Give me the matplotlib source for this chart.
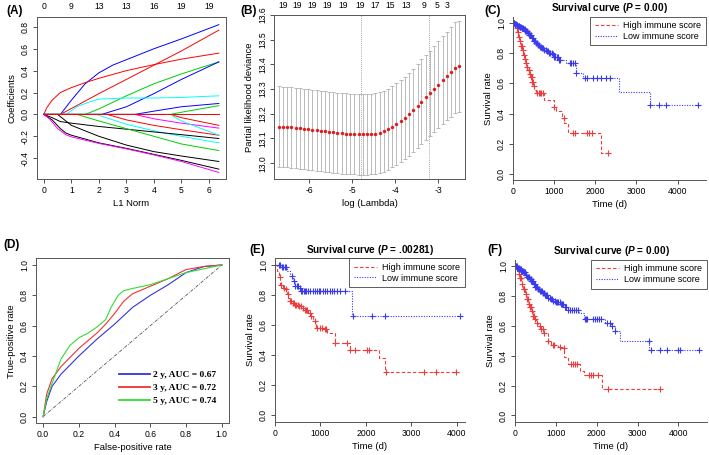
import numpy as np
import matplotlib.pyplot as plt
from matplotlib.lines import Line2D

plt.rcParams['font.family'] = ['Liberation Sans', 'DejaVu Sans']
plt.rcParams['mathtext.fontset'] = 'custom'
plt.rcParams['mathtext.it'] = 'Liberation Sans:italic:bold'
plt.rcParams['axes.linewidth'] = 0.7

# ---------------- data ----------------
# (A) lasso coefficient paths: colour, L1 norm, coefficient
coef_paths = [
    ('blue',    [0, 0.6, 1.0, 1.5, 2.0, 2.5, 3.0, 4.0, 5.0, 6.36], [0, 0, 0.13, 0.28, 0.38, 0.45, 0.50, 0.60, 0.69, 0.82]),
    ('red',     [0, 0.1, 0.3, 0.6, 1.0, 1.5, 2.0, 3.0, 4.0, 5.0, 6.36], [0, 0.06, 0.13, 0.20, 0.245, 0.29, 0.33, 0.40, 0.455, 0.505, 0.56]),
    ('red',     [0, 0.6, 2.0, 3.0, 4.0, 5.0, 6.36], [0, 0, 0.19, 0.32, 0.45, 0.58, 0.77]),
    ('#00CD00', [0, 1.5, 2.0, 3.0, 4.0, 5.0, 6.36], [0, 0, 0.05, 0.17, 0.28, 0.37, 0.48]),
    ('blue',    [0, 2.1, 3.0, 4.0, 5.0, 6.36], [0, 0, 0.07, 0.19, 0.32, 0.48]),
    ('cyan',    [0, 0.8, 1.2, 1.6, 2.0, 3.0, 4.0, 5.0, 6.36], [0, 0, 0.07, 0.11, 0.14, 0.15, 0.15, 0.155, 0.17]),
    ('blue',    [0, 3.3, 4.0, 5.0, 6.36], [0, 0, 0.03, 0.07, 0.10]),
    ('#00CD00', [0, 4.6, 5.0, 6.36], [0, 0, 0.02, 0.08]),
    ('magenta', [0, 3.3, 4.0, 5.0, 6.36], [0, 0, -0.04, -0.08, -0.125]),
    ('red',     [0, 4.6, 5.0, 6.36], [0, 0, -0.03, -0.10]),
    ('red',     [0, 2.3, 3.0, 4.0, 5.0, 6.36], [0, 0, -0.05, -0.10, -0.14, -0.19]),
    ('cyan',    [0, 4.6, 5.0, 6.36], [0, 0, -0.06, -0.19]),
    ('cyan',    [0, 1.9, 3.0, 4.0, 5.0, 6.36], [0, 0, -0.09, -0.15, -0.20, -0.26]),
    ('black',   [0, 0.3, 0.6, 1.0, 2.0, 3.0, 4.0, 5.0, 6.36], [0, -0.03, -0.065, -0.08, -0.11, -0.135, -0.16, -0.185, -0.22]),
    ('#00CD00', [0, 1.2, 2.0, 3.0, 4.0, 5.0, 6.36], [0, 0, -0.06, -0.13, -0.20, -0.27, -0.33]),
    ('black',   [0, 0.5, 1.0, 2.0, 3.0, 4.0, 5.0, 6.36], [0, 0, -0.10, -0.20, -0.28, -0.34, -0.38, -0.43]),
    ('black',   [0, 0.3, 0.6, 0.8, 1.0, 2.0, 3.0, 4.0, 5.0, 6.36], [0, -0.05, -0.13, -0.17, -0.19, -0.26, -0.31, -0.365, -0.42, -0.50]),
    ('magenta', [0, 0.2, 0.5, 0.8, 1.0, 2.0, 3.0, 4.0, 5.0, 6.36], [0, -0.04, -0.13, -0.185, -0.205, -0.265, -0.315, -0.37, -0.43, -0.53]),
    ('magenta', [0, 6.36], [0, 0]),
    ('red',     [0, 6.36], [0, 0]),
]
a_top_pos = [0, 1, 2, 3, 4, 5, 6]
a_top_lab = ['0', '9', '13', '13', '16', '19', '19']

# (B) cross-validation
log_lambda = [-6.70, -6.60, -6.51, -6.41, -6.31, -6.21, -6.12, -6.02, -5.92, -5.82, -5.73,
              -5.63, -5.53, -5.43, -5.34, -5.24, -5.14, -5.04, -4.95, -4.85, -4.75, -4.65,
              -4.56, -4.46, -4.36, -4.26, -4.17, -4.07, -3.97, -3.87, -3.78, -3.68, -3.58,
              -3.48, -3.39, -3.29, -3.19, -3.09, -3.00, -2.90, -2.80, -2.70, -2.61, -2.51]
cv_mean = [13.148, 13.147, 13.146, 13.145, 13.143, 13.141, 13.139, 13.137, 13.135, 13.133, 13.131,
           13.129, 13.127, 13.125, 13.123, 13.121, 13.120, 13.119, 13.118, 13.117, 13.117, 13.117,
           13.118, 13.120, 13.124, 13.130, 13.138, 13.148, 13.158, 13.170, 13.183, 13.198, 13.214,
           13.231, 13.249, 13.266, 13.283, 13.300, 13.317, 13.335, 13.353, 13.371, 13.386, 13.392]
cv_se = [0.163, 0.163, 0.163, 0.163, 0.163, 0.163, 0.163, 0.163, 0.163, 0.163, 0.163,
         0.163, 0.163, 0.163, 0.163, 0.163, 0.163, 0.163, 0.163, 0.163, 0.163, 0.163,
         0.163, 0.163, 0.163, 0.164, 0.164, 0.165, 0.165, 0.166, 0.167, 0.168, 0.169,
         0.170, 0.171, 0.172, 0.173, 0.175, 0.176, 0.178, 0.180, 0.182, 0.184, 0.185]
lambda_min, lambda_1se = -4.80, -3.21
b_top_pos = [-6.60, -6.27, -5.92, -5.57, -5.21, -4.82, -4.47, -4.12, -3.75, -3.33, -3.04, -2.79]
b_top_lab = ['19', '19', '19', '19', '19', '19', '17', '15', '13', '9', '5', '3']

# (D) ROC
roc2_fpr = [0, 0.02, 0.05, 0.1, 0.2, 0.3, 0.4, 0.5, 0.6, 0.7, 0.8, 0.9, 1.0]
roc2_tpr = [0, 0.10, 0.20, 0.28, 0.40, 0.51, 0.61, 0.72, 0.80, 0.87, 0.95, 0.99, 1.0]
roc3_fpr = [0, 0.02, 0.05, 0.1, 0.2, 0.3, 0.35, 0.4, 0.45, 0.5, 0.6, 0.7, 0.8, 0.9, 1.0]
roc3_tpr = [0, 0.15, 0.25, 0.33, 0.45, 0.55, 0.61, 0.68, 0.76, 0.81, 0.86, 0.91, 0.97, 0.99, 1.0]
roc5_fpr = [0, 0.02, 0.05, 0.1, 0.15, 0.2, 0.25, 0.3, 0.35, 0.38, 0.42, 0.45, 0.5, 0.6, 0.7, 0.8, 0.9, 1.0]
roc5_tpr = [0, 0.12, 0.22, 0.38, 0.47, 0.52, 0.55, 0.59, 0.64, 0.72, 0.80, 0.83, 0.845, 0.87, 0.91, 0.95, 0.975, 1.0]
roc_labels = ['2 y, AUC = 0.67', '3 y, AUC = 0.72', '5 y, AUC = 0.74']

# (C) survival
c_hi_t = [0, 60, 100, 130, 160, 190, 220, 250, 280, 310, 340, 370, 400, 430, 460, 490, 520, 560, 760, 990, 1050, 1200, 1250, 1330, 2150]
c_hi_s = [1.0, 0.97, 0.94, 0.91, 0.88, 0.85, 0.82, 0.79, 0.76, 0.735, 0.71, 0.69, 0.665, 0.64, 0.61, 0.585, 0.56, 0.535, 0.49, 0.445, 0.42, 0.37, 0.34, 0.27, 0.135]
c_hi_cens = [90, 120, 150, 175, 200, 215, 240, 265, 300, 320, 350, 380, 390, 420, 440, 450, 470, 480, 500, 590, 620, 650, 690, 720, 1000, 1230, 1460, 1510, 1790, 1850, 1920, 2300]
c_lo_t = [0, 40, 80, 120, 160, 200, 250, 300, 350, 400, 450, 500, 550, 600, 650, 700, 760, 820, 880, 950, 1000, 1100, 1300, 1530, 1700, 2580, 3320]
c_lo_s = [1.0, 0.995, 0.99, 0.985, 0.978, 0.97, 0.96, 0.948, 0.935, 0.92, 0.90, 0.885, 0.87, 0.855, 0.845, 0.835, 0.825, 0.815, 0.805, 0.795, 0.775, 0.755, 0.735, 0.67, 0.635, 0.545, 0.455]
c_lo_cens = [15, 30, 45, 60, 75, 90, 105, 120, 135, 150, 165, 180, 195, 210, 225, 240, 260, 280, 300, 320,
             340, 360, 380, 400, 420, 440, 460, 480, 500, 520, 540, 560, 580, 600, 625, 650, 675, 700, 730, 760,
             790, 820, 850, 880, 910, 940, 970, 1000, 1030, 1060, 1090, 1120, 1150, 1380, 1420, 1460, 1500,
             1540, 1760, 1800, 1950, 2050, 2150, 2250, 2350, 3320, 3550, 3720, 4500]

# (E) survival
e_hi_t = [0, 50, 80, 110, 180, 220, 255, 292, 330, 365, 440, 510, 580, 650, 730, 800, 840, 910, 1090, 1150, 1310, 1640, 2290, 2420]
e_hi_s = [1.0, 0.96, 0.92, 0.87, 0.85, 0.84, 0.81, 0.78, 0.76, 0.745, 0.735, 0.725, 0.715, 0.70, 0.68, 0.66, 0.625, 0.58, 0.575, 0.545, 0.48, 0.435, 0.38, 0.29]
e_hi_cens = [100, 140, 190, 240, 280, 330, 360, 390, 410, 440, 470, 500, 530, 570, 610, 650, 680, 710, 760, 800,
             870, 920, 1000, 1040, 1100, 1130, 1330, 1590, 1660, 1760, 2030, 2060, 2450, 3270, 3540, 3980]
e_lo_t = [0, 150, 260, 330, 370, 400, 440, 510, 580, 1700]
e_lo_s = [1.0, 0.987, 0.96, 0.94, 0.925, 0.895, 0.86, 0.845, 0.825, 0.66]
e_lo_cens = [90, 120, 150, 180, 210, 240, 380, 410, 450, 480, 500, 540, 580, 600, 630, 660, 690, 730, 780, 830,
             870, 920, 960, 1000, 1050, 1090, 1140, 1200, 1250, 1300, 1370, 1440, 1530, 1710, 2130, 2430, 4060]

# (F) survival
f_hi_t = [0, 50, 80, 120, 160, 200, 240, 280, 320, 360, 400, 440, 480, 520, 570, 610, 700, 800, 890, 1050, 1130, 1210, 1290, 1580, 1700, 2130]
f_hi_s = [1.0, 0.97, 0.95, 0.92, 0.88, 0.85, 0.815, 0.78, 0.75, 0.725, 0.70, 0.67, 0.645, 0.62, 0.60, 0.58, 0.555, 0.50, 0.47, 0.46, 0.45, 0.39, 0.345, 0.30, 0.27, 0.18]
f_hi_cens = [90, 130, 150, 180, 210, 230, 260, 290, 310, 340, 370, 390, 420, 450, 470, 500, 530, 600, 640, 680,
             720, 820, 920, 950, 1100, 1200, 1360, 1410, 1470, 1510, 1810, 1860, 1920, 2020, 2280, 3550]
f_lo_t = [0, 50, 100, 150, 200, 250, 300, 350, 400, 450, 500, 550, 600, 660, 730, 800, 860, 930, 1000, 1100, 1200, 1300, 1560, 1700, 2200, 2350, 2440, 2580, 3290]
f_lo_s = [1.0, 0.99, 0.98, 0.97, 0.96, 0.945, 0.93, 0.915, 0.90, 0.88, 0.865, 0.85, 0.835, 0.82, 0.805, 0.79, 0.78, 0.77, 0.76, 0.745, 0.73, 0.705, 0.69, 0.65, 0.62, 0.60, 0.565, 0.50, 0.44]
f_lo_cens = [15, 30, 45, 60, 75, 90, 105, 120, 135, 150, 165, 180, 195, 210, 225, 240, 260, 280, 300, 320,
             340, 360, 380, 400, 420, 440, 460, 480, 500, 520, 540, 560, 580, 600, 625, 650, 675, 700, 730, 760,
             790, 820, 850, 880, 910, 940, 970, 1000, 1030, 1060, 1090, 1120, 1150, 1180, 1220, 1260, 1300,
             1350, 1400, 1440, 1490, 1540, 1710, 1740, 1770, 1900, 1950, 2000, 2050, 2100, 2240, 2320, 2370,
             2450, 3270, 3330, 3560, 3720, 4000, 4050, 4500]
surv_labels = ['High immune score', 'Low immune score']

# ---------------- layout ----------------
W, H = 709, 455
fig = plt.figure(figsize=(W / 100, H / 100), dpi=100)
FS_TICK = 6.2
FS_LAB = 6.8


def box(l, t, r, b):
    return [l / W, 1 - b / H, (r - l) / W, (b - t) / H]


def r_style(ax):
    ax.tick_params(direction='out', length=3, width=0.6, labelsize=FS_TICK, pad=2, color='#333333')
    for lab in ax.get_yticklabels():
        lab.set_rotation(90)
        lab.set_va('center')
    for s in ax.spines.values():
        s.set_color('#555555')


def panel_tag(x, y, txt):
    fig.text(x / W, 1 - y / H, txt, fontsize=8.5, fontweight='bold', ha='left', va='center')


# ---- (A)
ax = fig.add_axes(box(37, 17, 226, 179))
for col, xs, ys in coef_paths:
    ax.plot(xs, ys, color=col, lw=0.7)
ax.set_xlim(-0.25, 6.62)
ax.set_ylim(-0.59, 0.89)
ax.set_xticks([0, 1, 2, 3, 4, 5, 6])
ax.set_yticks([-0.4, -0.2, 0.0, 0.2, 0.4, 0.6, 0.8])
ax.set_yticklabels(['-0.4', '-0.2', '0.0', '0.2', '0.4', '0.6', '0.8'])
ax.set_xlabel('L1 Norm', fontsize=FS_LAB, labelpad=3)
ax.set_ylabel('Coefficients', fontsize=FS_LAB, labelpad=3)
for p, l in zip(a_top_pos, a_top_lab):
    ax.text(p, 1.066, l, transform=ax.get_xaxis_transform(), fontsize=FS_TICK, ha='center', va='center')
r_style(ax)
panel_tag(6, 11, '(A)')

# ---- (B)
ax = fig.add_axes(box(274, 15, 465, 179))
ax.errorbar(log_lambda, cv_mean, yerr=cv_se, fmt='none', ecolor='#b0b0b0', elinewidth=0.6, capsize=1.6, capthick=0.6)
ax.scatter(log_lambda, cv_mean, s=6, color='#e31a1c', zorder=3, linewidths=0)
ax.axvline(lambda_min, color='#888888', lw=0.6, ls=(0, (1, 1.5)))
ax.axvline(lambda_1se, color='#888888', lw=0.6, ls=(0, (1, 1.5)))
ax.set_xlim(-6.81, -2.38)
ax.set_ylim(12.936, 13.60)
ax.set_xticks([-6, -5, -4, -3])
ax.set_xticklabels(['-6', '-5', '-4', '-3'])
ax.set_yticks([13.0, 13.1, 13.2, 13.3, 13.4, 13.5, 13.6])
ax.set_xlabel('log (Lambda)', fontsize=FS_LAB, labelpad=3)
ax.set_ylabel('Partial likelihood deviance', fontsize=FS_LAB, labelpad=3)
for p, l in zip(b_top_pos, b_top_lab):
    ax.text(p, 1.055, l, transform=ax.get_xaxis_transform(), fontsize=FS_TICK, ha='center', va='center')
r_style(ax)
panel_tag(240, 11, '(B)')

RED = '#ee3b3b'
BLUE = '#3a3aee'
DASH = (0, (3, 2))
DOT = (0, (1, 1.3))


def km(ax, t, s, cens, color, ls):
    end = max(max(cens), t[-1])
    tt = list(t) + [end]
    ss = list(s) + [s[-1]]
    ax.step(tt, ss, where='post', color=color, lw=0.8, ls=ls)
    idx = np.searchsorted(t, cens, side='right') - 1
    cy = np.asarray(s)[idx]
    ax.plot(cens, cy, ls='none', marker='+', ms=5, mew=0.8, color=color)


def surv_panel(rect, xmax, title, curves, top_spine=False):
    ax = fig.add_axes(box(*rect))
    for t, s, c, col, ls in curves:
        km(ax, t, s, c, col, ls)
    ax.set_xlim(0, xmax)
    ax.set_ylim(-0.042, 1.045)
    ax.set_yticks([0.0, 0.2, 0.4, 0.6, 0.8, 1.0])
    ax.set_xticks([0, 1000, 2000, 3000, 4000])
    ax.spines['right'].set_visible(False)
    ax.spines['top'].set_visible(top_spine)
    ax.set_xlabel('Time (d)', fontsize=FS_LAB, labelpad=3)
    ax.set_ylabel('Survival rate', fontsize=FS_LAB, labelpad=3)
    ax.set_title(title, fontsize=7.2, fontweight='bold', pad=4)
    handles = [Line2D([], [], color=RED, lw=0.8, ls=DASH), Line2D([], [], color=BLUE, lw=0.8, ls=DOT)]
    leg = ax.legend(handles, surv_labels, loc='upper right', fontsize=6.5,
                    frameon=True, fancybox=False, edgecolor='#333333', borderaxespad=0,
                    handlelength=2.6, handletextpad=0.6, borderpad=0.5, labelspacing=0.2)
    leg.get_frame().set_linewidth(0.7)
    r_style(ax)
    return ax


surv_panel((513, 16.6, 706, 180), 4690, r'Survival curve ($P$ = 0.00)',
           [(c_hi_t, c_hi_s, c_hi_cens, RED, DASH), (c_lo_t, c_lo_s, c_lo_cens, BLUE, DOT)])
panel_tag(484, 11, '(C)')

surv_panel((275, 258.3, 465, 421.7), 4180, r'Survival curve ($P$ = .00281)',
           [(e_hi_t, e_hi_s, e_hi_cens, RED, DASH), (e_lo_t, e_lo_s, e_lo_cens, BLUE, DOT)], top_spine=True)
panel_tag(249, 250, '(E)')

surv_panel((515, 259.7, 707, 421.7), 4700, r'Survival curve ($P$ = 0.00)',
           [(f_hi_t, f_hi_s, f_hi_cens, RED, DASH), (f_lo_t, f_lo_s, f_lo_cens, BLUE, DOT)])
panel_tag(487, 250, '(F)')

# ---- (D)
ax = fig.add_axes(box(36, 258.3, 229, 423.3))
ax.plot([0, 1], [0, 1], color='#555555', lw=0.6, ls=(0, (4, 1.5, 1, 1.5)))
roc_cols = ['#3333dd', '#ee3333', '#33dd33']
for fx, ty, col in zip([roc2_fpr, roc3_fpr, roc5_fpr], [roc2_tpr, roc3_tpr, roc5_tpr], roc_cols):
    ax.plot(fx, ty, color=col, lw=0.8)
ax.set_xlim(-0.04, 1.04)
ax.set_ylim(-0.044, 1.044)
ax.set_xticks([0, 0.2, 0.4, 0.6, 0.8, 1.0])
ax.set_xticklabels(['0.0', '0.2', '0.4', '0.6', '0.8', '1.0'])
ax.set_yticks([0, 0.2, 0.4, 0.6, 0.8, 1.0])
ax.set_yticklabels(['0.0', '0.2', '0.4', '0.6', '0.8', '1.0'])
ax.set_xlabel('False-positive rate', fontsize=FS_LAB, labelpad=3)
ax.set_ylabel('True-positive rate', fontsize=FS_LAB, labelpad=3)
roc_handles = [Line2D([], [], color=c, lw=1.3) for c in roc_cols]
ax.legend(roc_handles, roc_labels, loc='lower right', bbox_to_anchor=(0.98, 0.06), frameon=False,
          prop={'family': 'Liberation Serif', 'weight': 'bold', 'size': 6.8},
          handlelength=3.2, handletextpad=0.4, labelspacing=0.45)
r_style(ax)
panel_tag(3, 245, '(D)')

fig.savefig('out.png', dpi=100)
